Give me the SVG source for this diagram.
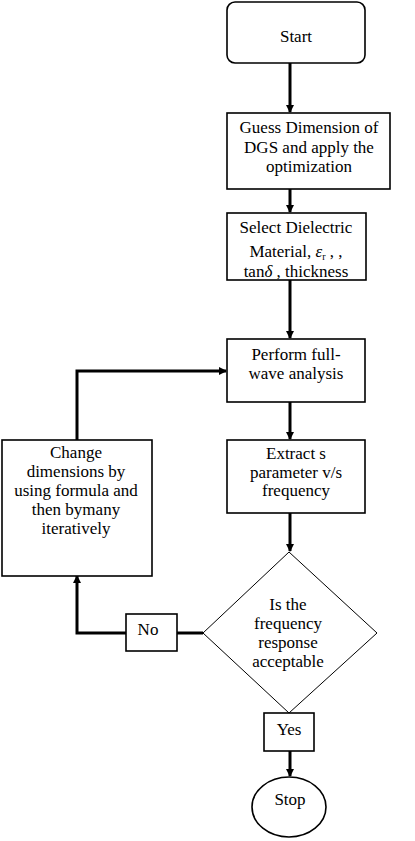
<svg xmlns="http://www.w3.org/2000/svg" width="415" height="841" viewBox="0 0 415 841">
<style>
.box{fill:#fff;stroke:#000;stroke-width:1.6}
.dia{fill:#fff;stroke:#000;stroke-width:1}
text{font-family:'Liberation Serif','Times New Roman','DejaVu Serif',serif;font-size:17px;fill:#000;text-anchor:middle}
.c{fill:none;stroke:#000;stroke-width:3}
</style>
<defs>
<marker id="ah" markerWidth="10" markerHeight="10" refX="7" refY="4" orient="auto" markerUnits="userSpaceOnUse">
<path d="M0,0 L8,4 L0,8 Z" fill="#000"/>
</marker>
</defs>
<rect width="415" height="841" fill="#fff"/>
<g id="connectors">
<line class="c" x1="290" y1="63" x2="290" y2="112" marker-end="url(#ah)"/>
<line class="c" x1="290" y1="189" x2="290" y2="212" marker-end="url(#ah)"/>
<line class="c" x1="290" y1="280" x2="290" y2="338" marker-end="url(#ah)"/>
<line class="c" x1="290" y1="402" x2="290" y2="439" marker-end="url(#ah)"/>
<line class="c" x1="290" y1="513" x2="290" y2="551" marker-end="url(#ah)"/>
<line class="c" x1="290" y1="751" x2="290" y2="776" marker-end="url(#ah)"/>
<polyline class="c" points="203,633 177,633"/>
<polyline class="c" points="126,633 77,633 77,576" marker-end="url(#ah)"/>
<polyline class="c" points="77,440 77,371 226,371" marker-end="url(#ah)"/>
</g>
<g id="start">
<rect class="box" x="227" y="2" width="138" height="61" rx="8"/>
<text x="296" y="42">Start</text>
</g>
<g id="guess">
<rect class="box" x="227" y="113" width="163" height="76"/>
<text x="309" y="133">Guess Dimension of</text>
<text x="309" y="153">DGS and apply the</text>
<text x="309" y="172">optimization</text>
</g>
<g id="select">
<rect class="box" x="227" y="213" width="139" height="67"/>
<text x="296" y="233">Select Dielectric</text>
<text x="296" y="257">Material,  <tspan font-style="italic">ε</tspan><tspan font-size="10" dy="3">r</tspan><tspan dy="-3"> , ,</tspan></text>
<text x="296" y="277">tan<tspan font-style="italic">δ</tspan> , thickness</text>
</g>
<g id="perform">
<rect class="box" x="227" y="339" width="138" height="63"/>
<text x="296" y="360">Perform full-</text>
<text x="296" y="379">wave analysis</text>
</g>
<g id="extract">
<rect class="box" x="227" y="440" width="138" height="73"/>
<text x="296" y="459">Extract s</text>
<text x="296" y="478">parameter v/s</text>
<text x="296" y="496">frequency</text>
</g>
<g id="change">
<rect class="box" x="2" y="440" width="150" height="136"/>
<text x="76" y="458">Change</text>
<text x="76" y="477">dimensions by</text>
<text x="76" y="496">using formula and</text>
<text x="76" y="515">then bymany</text>
<text x="76" y="534">iteratively</text>
</g>
<g id="decision">
<polygon class="dia" points="289,552 377,633 289,713 203,633"/>
<text x="288" y="610">Is the</text>
<text x="288" y="629">frequency</text>
<text x="288" y="648">response</text>
<text x="288" y="667">acceptable</text>
</g>
<g id="no">
<rect class="box" x="126" y="614" width="51" height="37"/>
<text x="148" y="635">No</text>
</g>
<g id="yes">
<rect class="box" x="264" y="713" width="50" height="38"/>
<text x="289" y="735">Yes</text>
</g>
<g id="stop">
<ellipse class="box" cx="289" cy="807" rx="37" ry="30"/>
<text x="290" y="805">Stop</text>
</g>
</svg>
